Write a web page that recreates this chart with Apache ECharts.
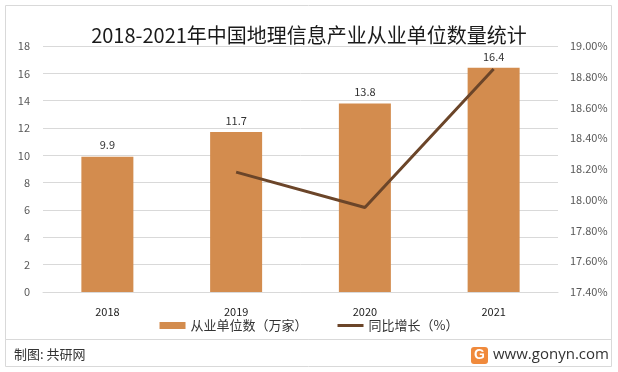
<!DOCTYPE html>
<html><head><meta charset="utf-8">
<script src="https://cdn.jsdelivr.net/npm/echarts@6/dist/echarts.min.js"></script>
<style>html,body{margin:0;padding:0;background:#fff;}#c{width:618px;height:372px;}</style>
</head><body><div id="c"></div>
<script>
const categories = ['2018','2019','2020','2021'];
const units = [9.9, 11.7, 13.8, 16.4];
const growth = [null, 18.18, 17.95, 18.85];
const leftTicks = {min:0, max:18, interval:2};
const rightTicks = {min:17.4, max:19.0, interval:0.2};

const chart = echarts.init(document.getElementById('c'));
const font = '"Microsoft YaHei","Noto Sans CJK SC",sans-serif';
chart.setOption({
  animation:false,
  textStyle:{fontFamily:font},
  graphic:[
    {type:'rect',shape:{x:5.5,y:5.5,width:606,height:334},style:{fill:'none',stroke:'#d9d9d9',lineWidth:1}},
    {type:'rect',shape:{x:5.5,y:339.5,width:606,height:27},style:{fill:'none',stroke:'#d9d9d9',lineWidth:1}},
    {type:'text',left:14,top:348,style:{text:'制图: 共研网',fontSize:13,fill:'#333',fontFamily:font}},
    {type:'rect',shape:{x:471,y:347,width:17,height:17,r:3},style:{fill:'#f08a3c'}},
    {type:'text',x:474,y:348,style:{text:'G',fontSize:14,fontWeight:'bold',fill:'#fff',fontFamily:'Arial'}},
    {type:'text',left:493,top:347,style:{text:'www.gonyn.com',fontSize:15,fill:'#333',fontFamily:'"Open Sans",Arial,sans-serif'}}
  ],
  title:{text:'2018-2021年中国地理信息产业从业单位数量统计',left:'center',top:20,
    textStyle:{fontSize:20,fontWeight:'normal',color:'#1a1a1a',fontFamily:font}},
  legend:{bottom:35,left:'center',itemGap:30,itemWidth:26,itemHeight:7,
    textStyle:{fontSize:13,color:'#333'},
    data:[{name:'从业单位数（万家）',icon:'rect'},{name:'同比增长（%）',icon:'path://M0,0 L26,0 L26,3 L0,3 Z'}]},
  grid:{left:43,right:60,top:46,bottom:80},
  xAxis:{type:'category',data:categories,
    axisLine:{lineStyle:{color:'#d9d9d9'}},axisTick:{show:false},
    axisLabel:{color:'#222',fontSize:11,margin:14}},
  yAxis:[
    {type:'value',min:leftTicks.min,max:leftTicks.max,interval:leftTicks.interval,
      axisLine:{show:false},axisTick:{show:false},
      axisLabel:{color:'#595959',fontSize:11,margin:13},
      splitLine:{lineStyle:{color:'#d9d9d9'}}},
    {type:'value',min:rightTicks.min,max:rightTicks.max,interval:rightTicks.interval,
      axisLine:{show:false},axisTick:{show:false},
      axisLabel:{color:'#595959',fontSize:11,margin:12,formatter:v=>v.toFixed(2)+'%'},
      splitLine:{show:false}}
  ],
  series:[
    {name:'从业单位数（万家）',type:'bar',data:units,barWidth:52,
      itemStyle:{color:'#D38C4E'},
      label:{show:true,position:'top',color:'#333',fontSize:11,distance:6}},
    {name:'同比增长（%）',type:'line',yAxisIndex:1,data:growth,
      symbol:'none',lineStyle:{color:'#6B4529',width:3},itemStyle:{color:'#6B4529'}}
  ]
});
</script></body></html>
